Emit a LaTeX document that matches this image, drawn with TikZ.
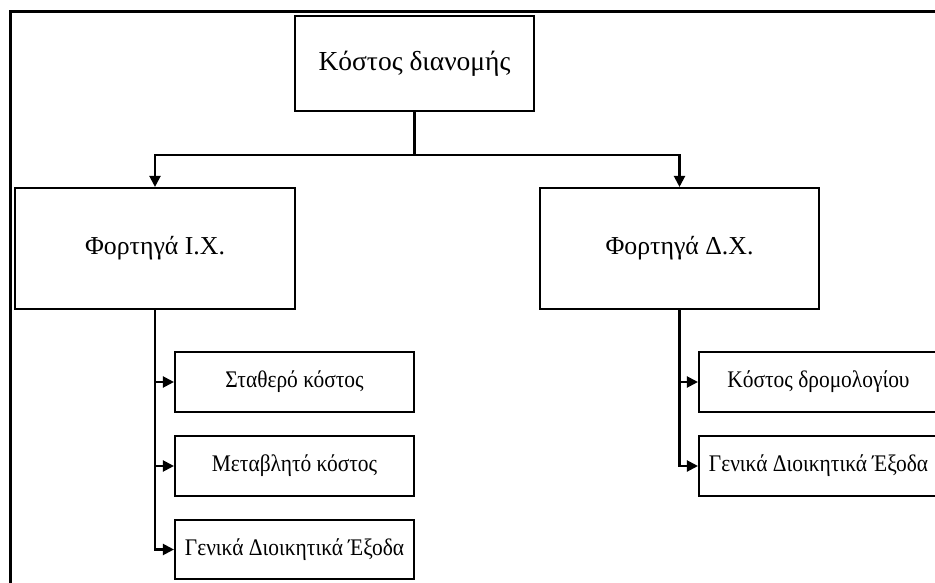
\documentclass[tikz,border=0pt]{standalone}
\usepackage{fontspec}
\setmainfont{Liberation Serif}
\newfontfamily\condserif[FakeStretch=0.9]{Liberation Serif}
\usetikzlibrary{arrows.meta}
\begin{document}
\begin{tikzpicture}[x=1pt,y=-1pt,
  boxstyle/.style={draw=black,line width=2.1pt,fill=white,rectangle,inner sep=0pt,align=center},
  arr/.style={line width=2.1pt,-{Triangle[length=11pt,width=11pt]}},
  toptext/.style={font=\fontsize{27.5}{32}\selectfont},
  bigtext/.style={font=\fontsize{25.8}{30}\selectfont},
  smalltext/.style={font=\condserif\fontsize{23.8}{27}\selectfont}]
\useasboundingbox (0,0) rectangle (935,583);
\clip (0,0) rectangle (935,583);
% outer frame
\draw[line width=3pt] (10,600) -- (10,12) -- (950,12);
% nodes
\node[boxstyle,toptext,minimum width=239pt,minimum height=95pt] (top) at (414.5,63.5) {Κόστος διανομής};
\node[boxstyle,bigtext,minimum width=280pt,minimum height=121pt] (ix) at (155,248.5) {Φορτηγά Ι.Χ.};
\node[boxstyle,bigtext,minimum width=279pt,minimum height=121pt] (dx) at (679.5,248.5) {Φορτηγά Δ.Χ.};
\node[boxstyle,smalltext,minimum width=239pt,minimum height=60pt] (a1) at (294.5,382) {Σταθερό κόστος};
\node[boxstyle,smalltext,minimum width=239pt,minimum height=60pt] (a2) at (294.5,466) {Μεταβλητό κόστος};
\node[boxstyle,smalltext,minimum width=239pt,minimum height=59pt] (a3) at (294.5,549.5) {Γενικά Διοικητικά Έξοδα};
\node[boxstyle,smalltext,minimum width=239pt,minimum height=60pt] (b1) at (818.5,382) {Κόστος δρομολογίου};
\node[boxstyle,smalltext,minimum width=239pt,minimum height=60pt] (b2) at (818.5,466) {Γενικά Διοικητικά Έξοδα};
\coordinate (bus) at (0,155);
% connectors
\draw[arr] (top.south) -- (top.south |- bus) -| (ix.north);
\draw[arr] (top.south |- bus) -| (dx.north);
\draw[arr] (ix.south) |- (a3.west);
\draw[arr] (ix.south |- a1.west) -- (a1.west);
\draw[arr] (ix.south |- a2.west) -- (a2.west);
\draw[arr] (dx.south) |- (b2.west);
\draw[arr] (dx.south |- b1.west) -- (b1.west);
\end{tikzpicture}
\end{document}
